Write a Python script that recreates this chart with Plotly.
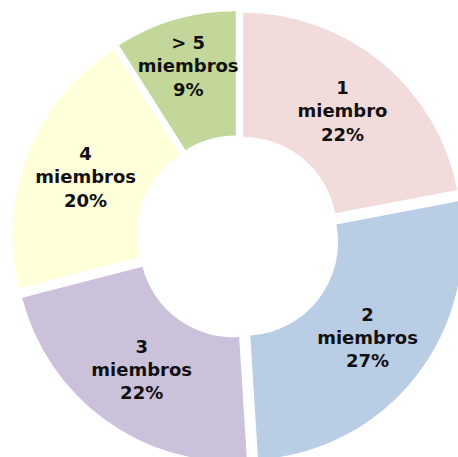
import plotly.graph_objects as go

categories = ["1", "2", "3", "4", "> 5"]
units = ["miembro", "miembros", "miembros", "miembros", "miembros"]
shares = [22, 27, 22, 20, 9]
colors = ["#F2DCDB", "#B9CDE5", "#CCC1DA", "#FFFFD9", "#C4D79B"]

fig = go.Figure(
    go.Pie(
        labels=categories,
        values=shares,
        customdata=units,
        texttemplate="%{label}<br>%{customdata}<br>%{value}%",
        textposition="inside",
        insidetextorientation="horizontal",
        textfont=dict(family="DejaVu Sans", size=18, color="#111111", weight="bold"),
        marker=dict(colors=colors, line=dict(width=0)),
        hole=0.43,
        pull=[0.037] * len(shares),
        sort=False,
        direction="clockwise",
        rotation=0,
        showlegend=False,
        hoverinfo="none",
    )
)

fig.update_layout(
    width=464,
    height=463,
    margin=dict(l=12, r=0, t=11, b=0, pad=0),
    paper_bgcolor="white",
    plot_bgcolor="white",
    uniformtext=dict(minsize=18, mode="show"),
)

fig.write_html(
    "out.html",
    config={"displayModeBar": False},
    post_script="document.body.style.margin='0';document.body.style.overflow='hidden';document.documentElement.style.overflow='hidden';",
)
